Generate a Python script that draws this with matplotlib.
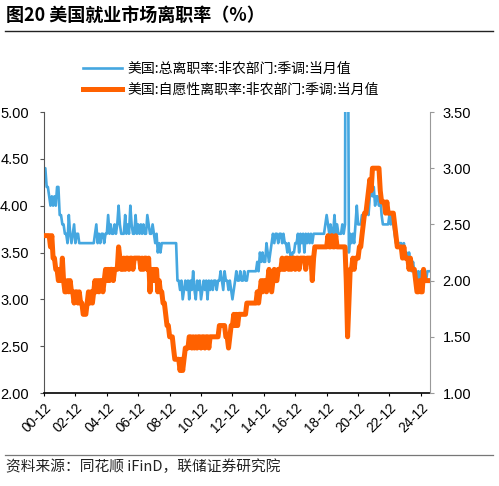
import matplotlib
matplotlib.use("Agg")
import matplotlib.pyplot as plt
from matplotlib.lines import Line2D
import pandas as pd

plt.rcParams['font.family'] = ['Liberation Sans', 'Noto Sans CJK SC', 'DejaVu Sans']
CJK = ['Noto Sans CJK SC', 'DejaVu Sans']

# 美国:总离职率:非农部门:季调:当月值 (%), monthly from 2000-12
b2000 = [4.4]
b2001 = [4.4, 4.2, 4.2, 4.1, 4.0, 4.1, 4.0, 4.1, 4.0, 4.2, 4.2, 3.9]
b2002 = [3.9, 3.8, 3.8, 3.7, 3.7, 3.6, 3.9, 3.7, 3.6, 3.7, 3.8, 3.6]
b2003 = [3.7, 3.7, 3.6, 3.6, 3.6, 3.6, 3.6, 3.6, 3.6, 3.6, 3.6, 3.6]
b2004 = [3.6, 3.6, 3.7, 3.8, 3.6, 3.7, 3.6, 3.7, 3.7, 3.6, 3.7, 3.7]
b2005 = [3.9, 3.7, 3.8, 3.7, 3.7, 3.8, 3.7, 3.8, 4.0, 3.8, 3.7, 3.7]
b2006 = [3.7, 3.9, 3.7, 3.8, 3.7, 4.0, 3.8, 3.7, 3.7, 3.9, 3.7, 3.8]
b2007 = [3.7, 3.8, 3.7, 3.8, 3.7, 3.7, 3.9, 3.8, 3.7, 3.7, 3.8, 3.7]
b2008 = [3.6, 3.7, 3.5, 3.6, 3.5, 3.6, 3.6, 3.6, 3.6, 3.6, 3.6, 3.6]
b2009 = [3.6, 3.6, 3.6, 3.6, 3.6, 3.2, 3.2, 3.1, 3.2, 3.0, 3.1, 3.2]
b2010 = [3.1, 3.2, 3.0, 3.2, 3.1, 3.3, 3.1, 3.0, 3.2, 3.1, 3.2, 3.0]
b2011 = [3.1, 3.2, 3.1, 3.2, 3.0, 3.2, 3.1, 3.2, 3.1, 3.2, 3.2, 3.1]
b2012 = [3.2, 3.2, 3.3, 3.2, 3.1, 3.3, 3.2, 3.2, 3.1, 3.2, 3.1, 3.0]
b2013 = [3.1, 3.2, 3.3, 3.2, 3.2, 3.3, 3.2, 3.2, 3.3, 3.2, 3.2, 3.3]
b2014 = [3.3, 3.3, 3.3, 3.3, 3.3, 3.3, 3.4, 3.3, 3.5, 3.4, 3.5, 3.4]
b2015 = [3.4, 3.6, 3.5, 3.4, 3.5, 3.6, 3.7, 3.6, 3.7, 3.7, 3.6, 3.7]
b2016 = [3.7, 3.6, 3.7, 3.6, 3.6, 3.5, 3.6, 3.5, 3.4, 3.5, 3.5, 3.6]
b2017 = [3.6, 3.7, 3.5, 3.7, 3.6, 3.7, 3.5, 3.7, 3.6, 3.7, 3.6, 3.7]
b2018 = [3.6, 3.7, 3.7, 3.7, 3.7, 3.7, 3.7, 3.7, 3.7, 3.7, 3.8, 3.9]
b2019 = [3.8, 3.7, 3.8, 3.7, 3.7, 3.9, 3.7, 3.8, 3.7, 3.7, 3.7, 3.8]
b2020 = [3.7, 3.8, 10.0, 7.5, 3.5, 3.7, 3.6, 3.7, 3.6, 3.8, 4.0, 3.8]
b2021 = [3.8, 3.8, 3.9, 3.9, 3.9, 3.9, 4.0, 3.9, 4.1, 4.2, 4.1, 4.2]
b2022 = [4.0, 4.1, 4.1, 4.0, 4.1, 3.9, 3.8, 3.8, 3.8, 3.8, 3.8, 3.9]
b2023 = [3.8, 3.9, 3.8, 3.7, 3.6, 3.6, 3.6, 3.6, 3.6, 3.5, 3.6, 3.5]
b2024 = [3.5, 3.4, 3.5, 3.4, 3.3, 3.4, 3.3, 3.3, 3.2, 3.3, 3.2, 3.3]
b2025 = [3.3, 3.2, 3.3, 3.2, 3.3, 3.3, 3.3]

# 美国:自愿性离职率:非农部门:季调:当月值 (%), monthly from 2000-12
o2000 = [2.4]
o2001 = [2.4, 2.4, 2.4, 2.4, 2.3, 2.4, 2.2, 2.2, 2.1, 2.1, 2.0, 2.1]
o2002 = [2.0, 2.2, 2.0, 1.9, 1.9, 2.0, 1.9, 2.0, 1.9, 1.9, 1.8, 1.9]
o2003 = [1.9, 1.8, 1.9, 1.8, 1.8, 1.7, 1.7, 1.7, 1.8, 1.9, 1.8, 1.9]
o2004 = [1.8, 1.9, 2.0, 1.9, 2.0, 1.9, 2.0, 2.0, 1.9, 2.0, 2.1, 2.0]
o2005 = [2.1, 2.0, 2.1, 2.1, 2.0, 2.1, 2.1, 2.1, 2.3, 2.2, 2.1, 2.1]
o2006 = [2.2, 2.1, 2.2, 2.2, 2.1, 2.2, 2.2, 2.1, 2.2, 2.2, 2.2, 2.2]
o2007 = [2.2, 2.1, 2.2, 2.1, 2.2, 2.2, 2.1, 2.2, 1.9, 2.1, 2.0, 2.1]
o2008 = [2.0, 2.1, 1.9, 2.0, 1.9, 1.9, 1.8, 1.8, 1.7, 1.6, 1.6, 1.5]
o2009 = [1.5, 1.5, 1.4, 1.3, 1.3, 1.3, 1.3, 1.2, 1.3, 1.2, 1.3, 1.4]
o2010 = [1.4, 1.4, 1.5, 1.5, 1.4, 1.5, 1.4, 1.5, 1.4, 1.5, 1.5, 1.4]
o2011 = [1.5, 1.5, 1.4, 1.5, 1.5, 1.4, 1.5, 1.5, 1.5, 1.5, 1.5, 1.5]
o2012 = [1.5, 1.6, 1.6, 1.6, 1.6, 1.6, 1.5, 1.5, 1.4, 1.5, 1.6, 1.6]
o2013 = [1.7, 1.6, 1.7, 1.6, 1.7, 1.7, 1.7, 1.7, 1.7, 1.7, 1.8, 1.8]
o2014 = [1.8, 1.8, 1.8, 1.8, 1.8, 1.8, 1.9, 1.8, 1.9, 2.0, 1.9, 2.0]
o2015 = [2.0, 1.9, 2.0, 2.1, 2.0, 1.9, 2.0, 2.1, 2.0, 2.0, 2.1, 2.1]
o2016 = [2.1, 2.2, 2.1, 2.1, 2.2, 2.2, 2.1, 2.2, 2.1, 2.2, 2.2, 2.1]
o2017 = [2.2, 2.2, 2.1, 2.2, 2.2, 2.2, 2.2, 2.1, 2.2, 2.2, 2.2, 2.2]
o2018 = [2.0, 2.2, 2.3, 2.3, 2.3, 2.3, 2.3, 2.3, 2.3, 2.3, 2.3, 2.3]
o2019 = [2.4, 2.3, 2.3, 2.4, 2.3, 2.3, 2.4, 2.3, 2.3, 2.3, 2.3, 2.3]
o2020 = [2.3, 2.3, 2.0, 1.5, 1.8, 2.1, 2.1, 2.2, 2.1, 2.2, 2.2, 2.2]
o2021 = [2.3, 2.3, 2.4, 2.5, 2.6, 2.6, 2.7, 2.8, 2.9, 2.8, 3.0, 3.0]
o2022 = [3.0, 3.0, 3.0, 3.0, 2.8, 2.7, 2.7, 2.7, 2.6, 2.7, 2.6, 2.6]
o2023 = [2.6, 2.6, 2.6, 2.5, 2.4, 2.3, 2.3, 2.3, 2.3, 2.2, 2.3, 2.2]
o2024 = [2.2, 2.2, 2.1, 2.2, 2.1, 2.1, 2.1, 2.0, 1.9, 1.9, 2.0, 1.9]
o2025 = [1.9, 2.1, 2.0, 2.0, 2.0, 2.0, 2.0]

total_sep = (b2000 + b2001 + b2002 + b2003 + b2004 + b2005 + b2006 + b2007 + b2008
             + b2009 + b2010 + b2011 + b2012 + b2013 + b2014 + b2015 + b2016 + b2017
             + b2018 + b2019 + b2020 + b2021 + b2022 + b2023 + b2024 + b2025)
quits = (o2000 + o2001 + o2002 + o2003 + o2004 + o2005 + o2006 + o2007 + o2008
         + o2009 + o2010 + o2011 + o2012 + o2013 + o2014 + o2015 + o2016 + o2017
         + o2018 + o2019 + o2020 + o2021 + o2022 + o2023 + o2024 + o2025)
dates = pd.date_range("2000-12-01", periods=len(total_sep), freq="MS")

label_total = "美国:总离职率:非农部门:季调:当月值"
label_quits = "美国:自愿性离职率:非农部门:季调:当月值"
left_ticks = [2.0, 2.5, 3.0, 3.5, 4.0, 4.5, 5.0]
right_ticks = [1.0, 1.5, 2.0, 2.5, 3.0, 3.5]
x_ticks = pd.date_range("2000-12-01", "2024-12-01", freq="24MS")

BLUE = "#45A7E0"
ORANGE = "#FF6100"

fig = plt.figure(figsize=(4.99, 4.86), dpi=100)
ax = fig.add_axes([44 / 499, 1 - 393 / 486, (430 - 44) / 499, (393 - 112) / 486])
ax2 = ax.twinx()

l1, = ax.plot(dates, total_sep, color=BLUE, lw=1.9)
l2, = ax2.plot(dates, quits, color=ORANGE, lw=3.6)

ax.set_xlim(dates[0], dates[-1])
ax.set_ylim(2, 5)
ax2.set_ylim(1, 3.5)
ax.set_yticks(left_ticks)
ax.set_yticklabels([f"{v:.2f}" for v in left_ticks])
ax2.set_yticks(right_ticks)
ax2.set_yticklabels([f"{v:.2f}" for v in right_ticks])
ax.set_xticks(x_ticks)
ax.set_xticklabels([d.strftime("%y-%m") for d in x_ticks], rotation=45,
                   ha="right", rotation_mode="anchor")

for s in ["top", "right"]:
    ax.spines[s].set_visible(False)
for s in ["top", "left", "bottom"]:
    ax2.spines[s].set_visible(False)
ax.spines["left"].set_color("#555555")
ax.spines["bottom"].set_color("#000000")
ax.spines["bottom"].set_linewidth(1.2)
ax2.spines["right"].set_color("#999999")

ax.tick_params(axis="y", length=3, color="#555555", labelsize=10.5, pad=8)
ax.tick_params(axis="x", length=2.5, color="#000000", labelsize=9.8, pad=3)
ax2.tick_params(axis="y", length=3, color="#999999", labelsize=10.5, pad=6)

fig.legend([l1, l2], [label_total, label_quits], loc="upper left",
           bbox_to_anchor=(83 / 499, 1 - 62 / 486), frameon=False,
           prop={"family": CJK, "size": 10}, handlelength=2.8,
           handletextpad=0.4, labelspacing=0.5, borderaxespad=0, borderpad=0)

fig.text(6 / 499, 1 - 15 / 486, "图20 美国就业市场离职率（%）", fontsize=13,
         weight="bold", va="center", family=CJK)
fig.add_artist(Line2D([5 / 499, 493 / 499], [1 - 31 / 486] * 2, color="#222222", lw=1.0))
fig.add_artist(Line2D([5 / 499, 493 / 499], [1 - 455 / 486] * 2, color="#777777", lw=0.9))
fig.text(6 / 499, 1 - 467 / 486, "资料来源：同花顺 iFinD，联储证券研究院", fontsize=10.6,
         va="center", color="#222222", family=CJK)

fig.savefig("out.png", dpi=100)
